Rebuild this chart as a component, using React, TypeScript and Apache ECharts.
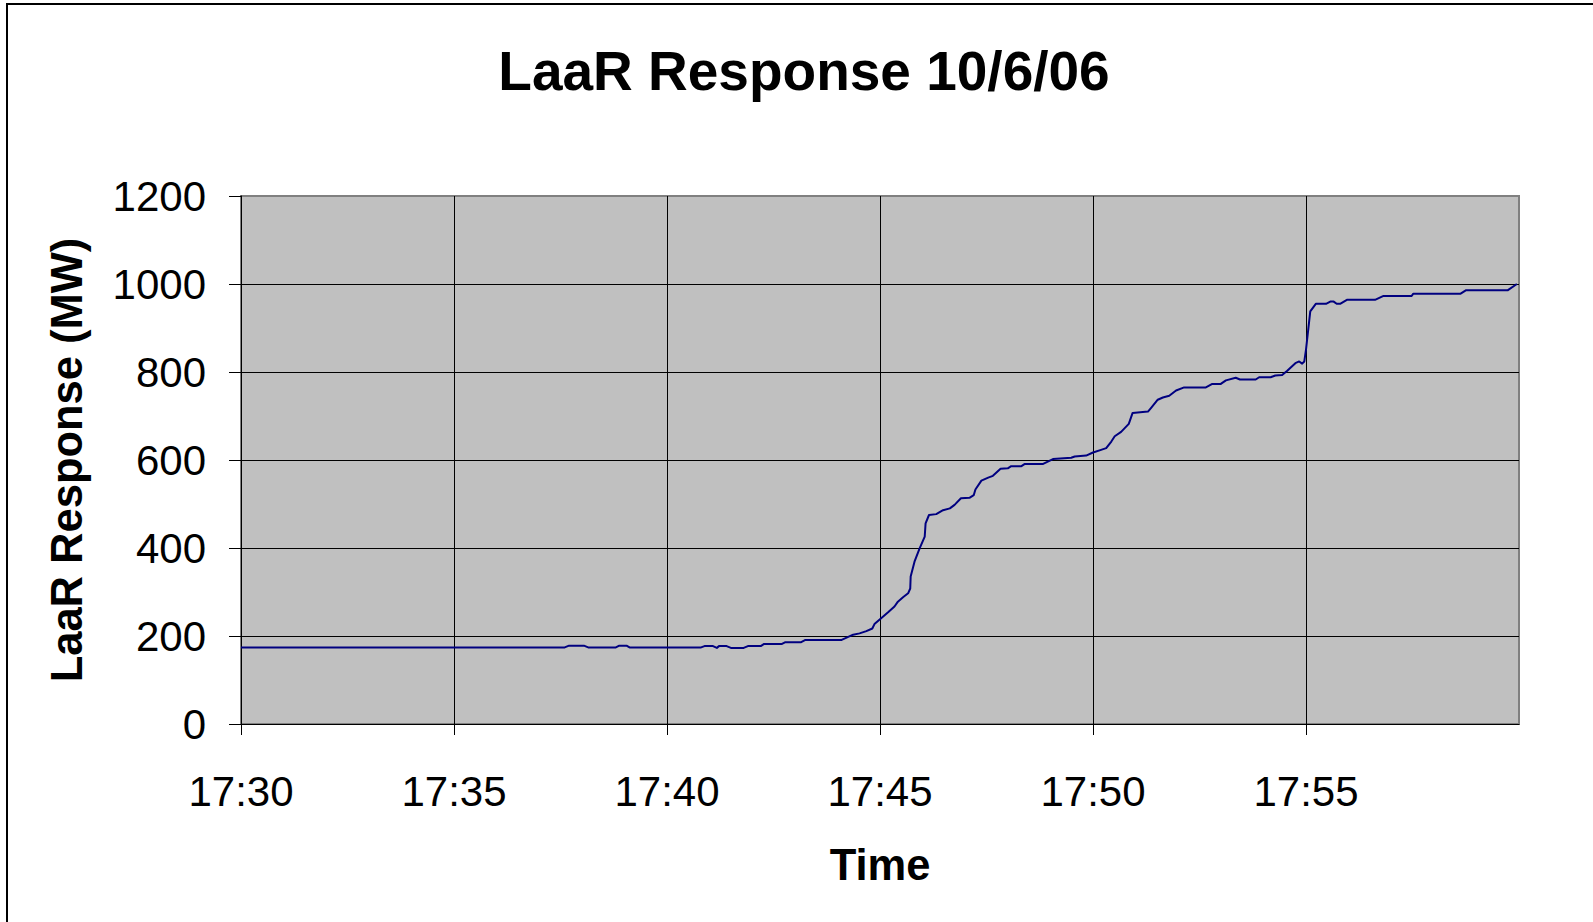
import React, { useEffect, useRef } from "react";
import * as echarts from "echarts";

// minutes after 17:30
const minutes: number[] = [
  0, 7.6, 7.7, 8.05, 8.15, 8.8, 8.88, 9.05, 9.12, 10.8, 10.88, 11.08, 11.17, 11.22, 11.4, 11.5, 11.8,
  11.9, 12.2, 12.28, 12.7, 12.78, 13.15, 13.25, 14.1, 14.37, 14.52, 14.68, 14.82, 14.87, 15.02, 15.19,
  15.34, 15.42, 15.54, 15.66, 15.71, 15.72, 15.81, 15.93, 16.05, 16.07, 16.15, 16.32, 16.48, 16.64,
  16.75, 16.9, 17.1, 17.2, 17.24, 17.38, 17.54, 17.65, 17.83, 18.0, 18.08, 18.32, 18.4, 18.83, 19.06,
  19.49, 19.57, 19.84, 20.0, 20.19, 20.31, 20.43, 20.51, 20.66, 20.84, 20.93, 21.29, 21.36, 21.52,
  21.64, 21.79, 21.95, 22.14, 22.65, 22.8, 23.0, 23.12, 23.35, 23.45, 23.82, 23.9, 24.17, 24.28, 24.44,
  24.56, 24.75, 24.84, 24.91, 24.96, 25.0, 25.1, 25.23, 25.47, 25.57, 25.65, 25.72, 25.8, 25.96, 26.62,
  26.82, 27.48, 27.52, 28.63, 28.76, 29.74, 29.95,
];

// LaaR response (MW)
const responseMW: number[] = [
  174, 174, 178, 178, 174, 174, 178, 178, 174, 174, 177, 177, 173, 177, 177, 173, 173,
  177, 177, 182, 182, 186, 186, 191, 191, 203, 206, 211, 217, 227, 240, 254,
  267, 278, 288, 297, 308, 335, 369, 399, 426, 456, 475, 477, 486, 490,
  498, 513, 514, 520, 533, 553, 560, 564, 580, 581, 586, 586, 591, 591, 602,
  605, 608, 610, 617, 623, 627, 642, 654, 664, 682, 707, 710, 718, 737,
  742, 746, 758, 765, 765, 773, 773, 781, 787, 783, 783, 788, 788, 792, 793,
  803, 820, 824, 819, 824, 851, 938, 955, 955, 960, 960, 955, 955, 964, 964,
  973, 973, 978, 978, 986, 986, 1000,
];

const timeLabels: string[] = ["17:30", "17:35", "17:40", "17:45", "17:50", "17:55", "18:00"];

const titleText = "LaaR Response 10/6/06";
const xName = "Time";
const yName = "LaaR Response (MW)";

const FONT = "'Liberation Sans', Arial, sans-serif";

export default function App() {
  const ref = useRef<HTMLDivElement>(null);
  useEffect(() => {
    if (!ref.current) return;
    const chart = echarts.init(ref.current, undefined, { renderer: "svg" });
    const data = minutes.map((m, i) => [m, responseMW[i]]);
    chart.setOption({
      animation: false,
      backgroundColor: "#ffffff",
      grid: {
        left: 241,
        right: 74,
        top: 196,
        bottom: 198,
        show: true,
        backgroundColor: "#c0c0c0",
        borderColor: "#808080",
        borderWidth: 2,
      },
      graphic: [
        {
          type: "rect",
          shape: { x: 7, y: 4, width: 1700, height: 1100 },
          style: { fill: "none", stroke: "#000000", lineWidth: 2 },
          silent: true,
          z: -10,
        },
        {
          type: "text",
          style: {
            text: titleText,
            x: 804,
            y: 71,
            align: "center",
            verticalAlign: "middle",
            fontSize: 55,
            fontWeight: "bold",
            fontFamily: FONT,
            fill: "#000000",
          },
        },
      ],
      xAxis: {
        type: "value",
        min: 0,
        max: 30,
        interval: 5,
        name: xName,
        nameLocation: "middle",
        nameGap: 119,
        nameTextStyle: { fontSize: 43.5, fontWeight: "bold", fontFamily: FONT, color: "#000" },
        axisLine: { show: true, onZero: false, lineStyle: { color: "#000", width: 1 } },
        axisTick: { show: true, inside: false, length: 11, lineStyle: { color: "#000" } },
        axisLabel: {
          margin: 46,
          fontSize: 42,
          fontFamily: FONT,
          color: "#000",
          showMaxLabel: false,
          formatter: (v: number) => (v >= 30 ? "" : timeLabels[Math.round(v / 5)]),
        },
        splitLine: { show: true, showMinLine: false, showMaxLine: false, lineStyle: { color: "#000", width: 1 } },
      },
      yAxis: {
        type: "value",
        min: 0,
        max: 1200,
        interval: 200,
        name: yName,
        nameLocation: "middle",
        nameGap: 152,
        nameRotate: 90,
        nameTextStyle: { fontSize: 43.5, fontWeight: "bold", fontFamily: FONT, color: "#000" },
        axisLine: { show: true, lineStyle: { color: "#000", width: 1 } },
        axisTick: { show: true, inside: false, length: 12, lineStyle: { color: "#000" } },
        axisLabel: {
          margin: 35,
          fontSize: 42,
          fontFamily: FONT,
          color: "#000",
          formatter: (v: number) => String(v),
        },
        splitLine: { show: true, showMinLine: false, showMaxLine: false, lineStyle: { color: "#000", width: 1 } },
      },
      series: [
        {
          type: "line",
          data,
          showSymbol: false,
          symbol: "none",
          smooth: false,
          lineStyle: { color: "#000080", width: 2, join: "round" },
          itemStyle: { color: "#000080" },
        },
      ],
    });
    return () => chart.dispose();
  }, []);
  return (
    <div
      ref={ref}
      style={{ position: "absolute", left: 0, top: 0, width: 1593, height: 922 }}
    />
  );
}
